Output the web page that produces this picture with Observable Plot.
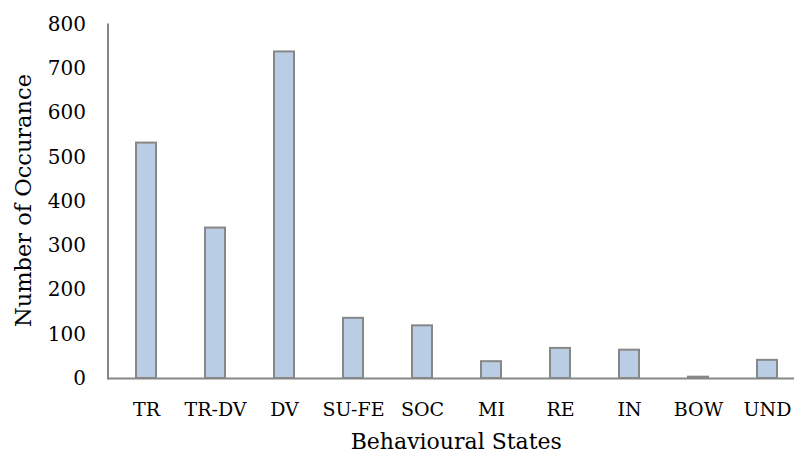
<!DOCTYPE html>
<html>
<head>
<meta charset="utf-8">
<script src="https://cdn.jsdelivr.net/npm/d3@7"></script>
<script src="https://cdn.jsdelivr.net/npm/@observablehq/plot@0.6"></script>
<style>
  html, body { margin: 0; padding: 0; background: #fff; }
  #chart svg { display: block; }
</style>
</head>
<body>
<div id="chart"></div>
<script>
const states = ["TR", "TR-DV", "DV", "SU-FE", "SOC", "MI", "RE", "IN", "BOW", "UND"];
const counts = [532, 340, 738, 136, 119, 38, 68, 64, 3, 41];
const yTicks = [0, 100, 200, 300, 400, 500, 600, 700, 800];
const xTitle = "Behavioural States";
const yTitle = "Number of Occurance";

const data = states.map((s, i) => ({state: s, count: counts[i]}));

const font = "'DejaVu Serif', serif";

const chart = Plot.plot({
  width: 794,
  height: 457,
  marginLeft: 107.5,
  marginRight: 0,
  marginTop: 24,
  marginBottom: 79,
  style: {fontFamily: font, fontSize: "19px", color: "#000", background: "#fff"},
  x: {domain: states, range: [107.5, 804.5], paddingInner: 0.713, paddingOuter: 0.3565, label: null},
  y: {domain: [0, 800], label: null},
  marks: [
    Plot.barY(data, {x: "state", y: "count", fill: "#B9CDE5", stroke: "#878787", strokeWidth: 2}),
    Plot.ruleY([0], {stroke: "#878787", strokeWidth: 2}),
    Plot.frame({anchor: "left", stroke: "#878787", strokeWidth: 2}),
    Plot.axisY({ticks: yTicks, tickSize: 0, tickPadding: 22, fontSize: 20, label: null}),
    Plot.axisX({tickSize: 0, tickPadding: 24, fontSize: 19, label: null}),
    Plot.text([xTitle], {text: d => d, frameAnchor: "bottom", textAnchor: "middle", lineAnchor: "middle",
      dx: 5, dy: 63, fontSize: 22, fill: "#000"}),
    Plot.text([yTitle], {text: d => d, frameAnchor: "left", textAnchor: "middle", lineAnchor: "middle",
      rotate: -90, dx: -84, dy: -1, fontSize: 22.5, fill: "#000"})
  ]
});
document.getElementById("chart").appendChild(chart);
</script>
</body>
</html>
